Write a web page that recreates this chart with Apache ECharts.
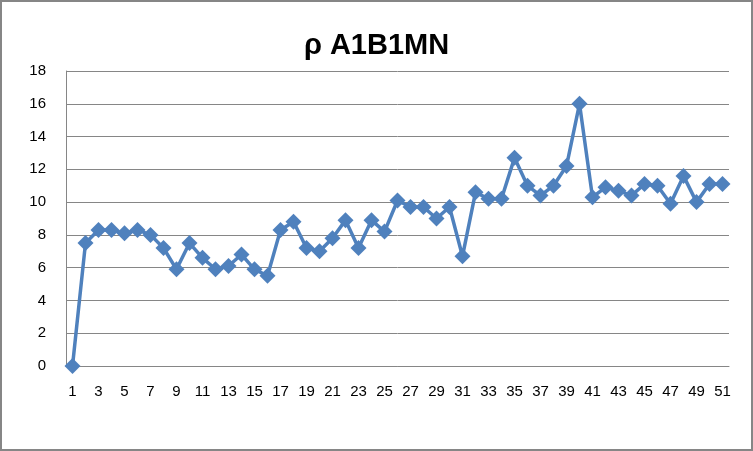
<!DOCTYPE html>
<html>
<head>
<meta charset="utf-8">
<script src="https://cdn.jsdelivr.net/npm/echarts@6/dist/echarts.min.js"></script>
<style>
html, body { margin: 0; padding: 0; background: #fff; }
#chart { width: 753px; height: 451px; box-sizing: border-box; border: 2px solid #868686; }
</style>
</head>
<body>
<div id="chart"></div>
<script>
// categories 1..51
var categories = ['1','2','3','4','5','6','7','8','9','10','11','12','13','14','15','16','17','18','19','20',
	'21','22','23','24','25','26','27','28','29','30','31','32','33','34','35','36','37','38','39','40',
	'41','42','43','44','45','46','47','48','49','50','51'];

var rhoValues = [0, 7.5, 8.3, 8.3, 8.1, 8.3, 8.0, 7.2, 5.9, 7.5,
	6.6, 5.9, 6.1, 6.8, 5.9, 5.5, 8.3, 8.8, 7.2, 7.0,
	7.8, 8.9, 7.2, 8.9, 8.2, 10.1, 9.7, 9.7, 9.0, 9.7,
	6.7, 10.6, 10.2, 10.2, 12.7, 11.0, 10.4, 11.0, 12.2, 16.0,
	10.3, 10.9, 10.7, 10.4, 11.1, 11.0, 9.9, 11.6, 10.0, 11.1, 11.1];

var yTicks = { min: 0, max: 18, interval: 2 };

var chart = echarts.init(document.getElementById('chart'));
chart.setOption({
	animation : false,
	title : {
		text : 'ρ A1B1MN',
		left : 'center',
		top : 24,
		textStyle : {
			fontFamily : 'Liberation Sans',
			fontWeight : 'bold',
			fontSize : 29,
			color : '#000'
		}
	},
	grid : {
		left : 64,
		right : 22,
		top : 69,
		bottom : 83
	},
	xAxis : {
		type : 'category',
		boundaryGap : true,
		data : categories,
		axisLine : { lineStyle : { color : '#868686', width : 1 } },
		axisTick : { show : false },
		axisLabel : {
			interval : 1,
			margin : 18,
			fontFamily : 'Liberation Sans',
			fontSize : 15,
			color : '#000'
		}
	},
	yAxis : {
		type : 'value',
		min : yTicks.min,
		max : yTicks.max,
		interval : yTicks.interval,
		axisLine : { show : true, lineStyle : { color : '#868686', width : 1 } },
		axisTick : { show : false },
		splitLine : { lineStyle : { color : '#868686', width : 1 } },
		axisLabel : {
			margin : 20,
			fontFamily : 'Liberation Sans',
			fontSize : 15,
			color : '#000'
		}
	},
	series : [ {
		name : 'ρ A1B1MN',
		type : 'line',
		data : rhoValues,
		showAllSymbol : true,
		symbol : 'diamond',
		symbolSize : 16,
		itemStyle : { color : '#4F81BD' },
		lineStyle : { color : '#4F81BD', width : 3.5 }
	} ]
});
</script>
</body>
</html>
